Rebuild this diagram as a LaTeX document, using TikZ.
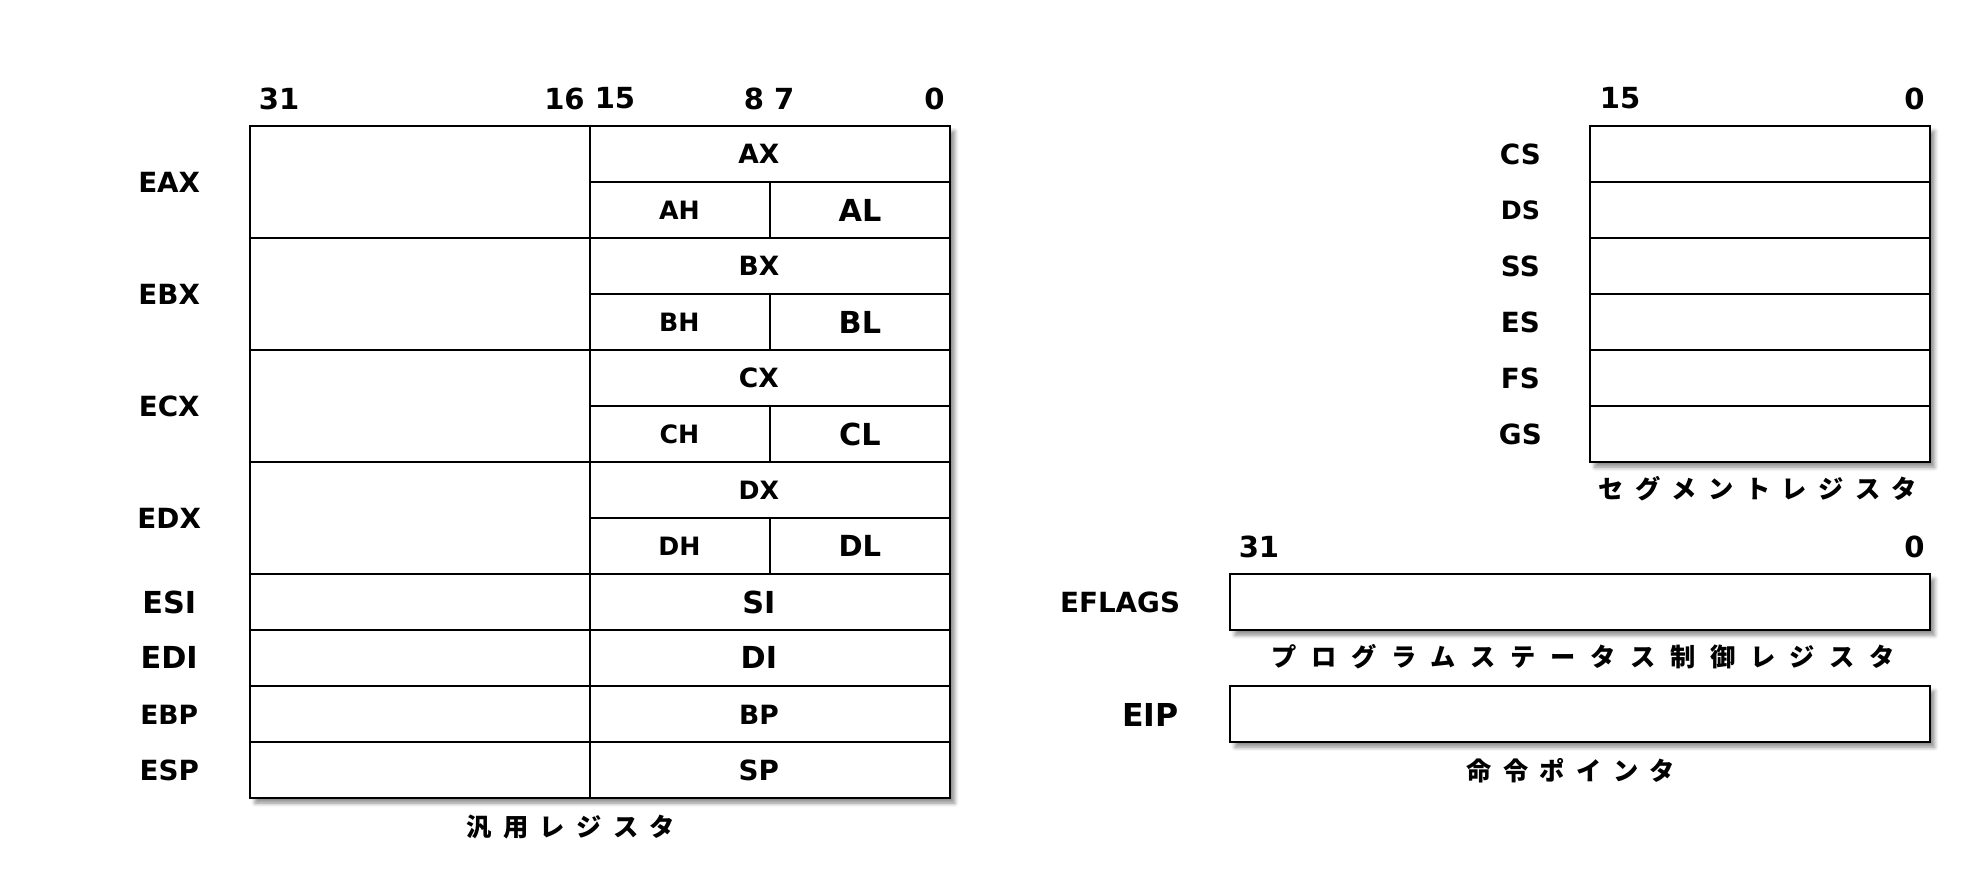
\documentclass[tikz,border=0pt]{standalone}
\usepackage{fontspec}
\setmainfont{DejaVu Sans}
\newfontfamily\jpfont[LetterSpace=45]{Noto Sans CJK JP}
\usetikzlibrary{shadows.blur}

\tikzset{
  cell/.style={draw, line width=0.8pt},
  outer/.style={draw, line width=0.8pt, fill=white,
    blur shadow={shadow xshift=2pt, shadow yshift=-2pt, shadow blur radius=1.6pt, shadow blur steps=6, shadow opacity=45}},
  lbl/.style={inner sep=0.75pt, font=\bfseries\fontsize{#1}{#1}\selectfont},
  lbl/.default=11,
  jpcap/.style={inner sep=0.75pt, font=\jpfont\bfseries\fontsize{10}{12}\selectfont}
}

\begin{document}
\begin{tikzpicture}[x=0.5pt,y=0.5pt,yscale=-1]
  \useasboundingbox (0,0) rectangle (1568,709.5);

  %Shape: general registers
  \draw [outer] (198,100) rectangle (752,632);
  \draw [cell] (198,100) rectangle (467,188.7);
  \draw [cell] (198,188.7) rectangle (467,277.3);
  \draw [cell] (198,277.3) rectangle (467,366);
  \draw [cell] (198,366) rectangle (467,454.7);
  \draw [cell] (198,454.7) rectangle (467,499);
  \draw [cell] (198,499) rectangle (467,543.3);
  \draw [cell] (198,543.3) rectangle (467,587.7);
  \draw [cell] (198,587.7) rectangle (467,632);
  % low words
  \draw [cell] (467,100) rectangle (752,144.3);
  \draw [cell] (467,144.3) rectangle (610,188.7) (610,144.3) rectangle (752,188.7);
  \draw [cell] (467,188.7) rectangle (752,233);
  \draw [cell] (467,233) rectangle (610,277.3) (610,233) rectangle (752,277.3);
  \draw [cell] (467,277.3) rectangle (752,321.7);
  \draw [cell] (467,321.7) rectangle (610,366) (610,321.7) rectangle (752,366);
  \draw [cell] (467,366) rectangle (752,410.3);
  \draw [cell] (467,410.3) rectangle (610,454.7) (610,410.3) rectangle (752,454.7);
  \draw [cell] (467,454.7) rectangle (752,499);
  \draw [cell] (467,499) rectangle (752,543.3);
  \draw [cell] (467,543.3) rectangle (752,587.7);
  \draw [cell] (467,587.7) rectangle (752,632);

  % Text Node: bit numbers
  \node (b31) at (221,78) [lbl=11.5] {31};
  \node (b16) at (447,78) [lbl=11.5] {16};
  \node (b15) at (487,78) [lbl=11.5] {15};
  \node (b8) at (597,78) [lbl=11.5] {8};
  \node (b7) at (621,78) [lbl=11.5] {7};
  \node (b0) at (740,78) [lbl=11.5] {0};

  % Text Node: register names
  \node (eax) at (134,144.3) [lbl] {EAX};
  \node (ebx) at (134,233) [lbl] {EBX};
  \node (ecx) at (134,321.7) [lbl] {ECX};
  \node (edx) at (134,410.3) [lbl] {EDX};
  \node (esi) at (134,477) [lbl=12] {ESI};
  \node (edi) at (134,521) [lbl=12] {EDI};
  \node (ebp) at (134,566) [lbl=10.5] {EBP};
  \node (esp) at (134,610) [lbl=11] {ESP};

  \node (ax) at (601,122.2) [lbl=10.5] {AX};
  \node (ah) at (538,166.5) [lbl=10] {AH};
  \node (al) at (681,166.5) [lbl=12] {AL};
  \node (bx) at (601,210.8) [lbl=10.5] {BX};
  \node (bh) at (538,255.2) [lbl=10] {BH};
  \node (bl) at (681,255.2) [lbl=12] {BL};
  \node (cx) at (601,299.5) [lbl=10.5] {CX};
  \node (ch) at (538,343.8) [lbl=10] {CH};
  \node (cl) at (681,343.8) [lbl=12] {CL};
  \node (dx) at (601,388.2) [lbl=10] {DX};
  \node (dh) at (538,432.5) [lbl=10] {DH};
  \node (dl) at (681,432.5) [lbl=11.5] {DL};
  \node (si) at (601,477) [lbl=12] {SI};
  \node (di) at (601,521) [lbl=12] {DI};
  \node (bp) at (601,566) [lbl=10.5] {BP};
  \node (sp) at (601,610) [lbl=11] {SP};

  \node (gencap) at (452,655) [jpcap] {汎用レジスタ};

  %Shape: segment registers
  \draw [outer] (1259,100) rectangle (1528,366);
  \draw [cell] (1259,100) rectangle (1528,144.3);
  \draw [cell] (1259,144.3) rectangle (1528,188.7);
  \draw [cell] (1259,188.7) rectangle (1528,233);
  \draw [cell] (1259,233) rectangle (1528,277.3);
  \draw [cell] (1259,277.3) rectangle (1528,321.7);
  \draw [cell] (1259,321.7) rectangle (1528,366);

  \node (s15) at (1283,78) [lbl=11.5] {15};
  \node (s0) at (1516,78) [lbl=11.5] {0};
  \node (cs) at (1204,122.2) [lbl] {CS};
  \node (ds) at (1204,166.5) [lbl=10] {DS};
  \node (ss) at (1204,210.8) [lbl] {SS};
  \node (es) at (1204,255.2) [lbl] {ES};
  \node (fs) at (1204,299.5) [lbl] {FS};
  \node (gs) at (1204,343.8) [lbl] {GS};
  \node (segcap) at (1392,387) [jpcap] {セグメントレジスタ};

  %Shape: flags and instruction pointer
  \draw [outer] (974,454.7) rectangle (1528,499);
  \draw [outer] (974,543.3) rectangle (1528,587.7);

  \node (f31) at (997,433) [lbl=11.5] {31};
  \node (f0) at (1516,433) [lbl=11.5] {0};
  \node (eflags) at (887,477) [lbl] {EFLAGS};
  \node (eip) at (911,566) [lbl=12.5] {EIP};
  \node (flagcap) at (1254,520) [jpcap] {\addfontfeature{LetterSpace=58}プログラムステータス制御レジスタ};
  \node (eipcap) at (1244,610) [jpcap] {命令ポインタ};
\end{tikzpicture}
\end{document}
